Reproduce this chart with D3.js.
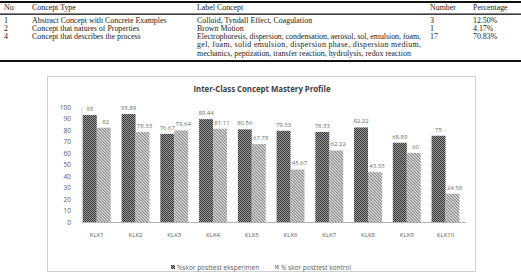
<!DOCTYPE html>
<html><head><meta charset="utf-8">
<script src="https://cdn.jsdelivr.net/npm/d3@7"></script>
<style>body{margin:0;background:#fff}svg{display:block}</style>
</head><body>
<svg id="c" width="521" height="274"></svg>
<script>
// ---- data ----
const tableHeaders = ["No", "Concept Type", "Label Concept", "Number", "Percentage"];
const tableNo = ["1", "2", "4"];
const tableType = ["Abstract Concept with Concrete Examples", "Concept that natures of Properties", "Concept that describes the process"];
const tableLabel = [
  ["Colloid, Tyndall Effect, Coagulation"],
  ["Brown Motion"],
  ["Electrophoresis, dispersion, condensation, aerosol, sol, emulsion, foam,",
   "gel, foam, solid emulsion, dispersion phase, dispersion medium,",
   "mechanics, peptization, transfer reaction, hydrolysis, redox reaction"]
];
const tableNumber = ["3", "1", "17"];
const tablePct = ["12.50%", "4.17%", "70.83%"];

const chartTitle = "Inter-Class Concept Mastery Profile";
const categories = ["KLK1","KLK2","KLK3","KLK4","KLK5","KLK6","KLK7","KLK8","KLK9","KLK10"];
const expValues = [93, 93.89, 76.67, 89.44, 80.56, 79.33, 78.33, 82.22, 68.89, 75];
const ctrlValues = [82, 78.33, 79.64, 81.11, 67.78, 45.67, 62.22, 43.33, 60, 24.58];
const expLabels = ["93","93.89","76.67","89.44","80.56","79.33","78.33","82.22","68.89","75"];
const ctrlLabels = ["82","78.33","79.64","81.11","67.78","45.67","62.22","43.33","60","24.58"];
const seriesNames = ["%skor posttest eksperimen", "% skor posttest kontrol"];
const yTicks = [0,10,20,30,40,50,60,70,80,90,100];

// ---- drawing ----
const svg = d3.select("#c");
const defs = svg.append("defs");
const p1 = defs.append("pattern").attr("id","pDark").attr("width",2).attr("height",2).attr("patternUnits","userSpaceOnUse");
p1.append("rect").attr("width",2).attr("height",2).attr("fill","#9c9c9c");
p1.append("rect").attr("width",1).attr("height",1).attr("fill","#353535");
p1.append("rect").attr("x",1).attr("y",1).attr("width",1).attr("height",1).attr("fill","#353535");
const p2 = defs.append("pattern").attr("id","pLight").attr("width",3).attr("height",3).attr("patternUnits","userSpaceOnUse");
p2.append("rect").attr("width",3).attr("height",3).attr("fill","#dedede");
[[0,0],[1,1],[2,2]].forEach(([x,y])=>p2.append("rect").attr("x",x).attr("y",y).attr("width",1).attr("height",1).attr("fill","#8a8a8a"));
[[1,0],[2,1],[0,2]].forEach(([x,y])=>p2.append("rect").attr("x",x).attr("y",y).attr("width",1).attr("height",1).attr("fill","#b4b4b4"));

// table
const tg = svg.append("g").attr("font-family","'Liberation Serif', serif").attr("font-size","7.9px").attr("fill","#1a1a1a");
tg.append("rect").attr("x",0).attr("y",1).attr("width",521).attr("height",2).attr("fill","#111");
tg.append("rect").attr("x",0).attr("y",13.5).attr("width",521).attr("height",1.3).attr("fill","#111");
tg.append("rect").attr("x",0).attr("y",60).attr("width",521).attr("height",2).attr("fill","#111");
const colX = [4, 32, 197, 430, 473];
tableHeaders.forEach((h,i)=>tg.append("text").attr("x",colX[i]).attr("y",10).text(h));
const rowY = [23, 31, 39];
tableNo.forEach((d,i)=>{
  tg.append("text").attr("x",colX[0]).attr("y",rowY[i]).text(d);
  tg.append("text").attr("x",colX[1]).attr("y",rowY[i]).text(tableType[i]);
  tableLabel[i].forEach((ln,j)=>{
    const t = tg.append("text").attr("x",colX[2]).attr("y",rowY[i]+j*8.3).text(ln);
    if (tableLabel[i].length>1 && j<tableLabel[i].length-1) t.attr("textLength",224).attr("lengthAdjust","spacing");
  });
  tg.append("text").attr("x",colX[3]).attr("y",rowY[i]).text(tableNumber[i]);
  tg.append("text").attr("x",colX[4]).attr("y",rowY[i]).text(tablePct[i]);
});

// chart frame
svg.append("rect").attr("x",47.5).attr("y",76.5).attr("width",428).attr("height",195).attr("fill","#fff").attr("stroke","#cfcfcf").attr("stroke-width",1);
svg.append("text").attr("x",262).attr("y",92).attr("text-anchor","middle")
  .attr("font-family","'Open Sans', sans-serif").attr("font-weight","bold").attr("font-size","8.2px").attr("fill","#404040")
  .attr("textLength",137).attr("lengthAdjust","spacingAndGlyphs").text(chartTitle);

const y = d3.scaleLinear().domain([0,100]).range([222,107]);
const x = d3.scaleBand().domain(categories).range([77.4,464.9]).paddingInner(0.28).paddingOuter(0.14);
const xs = d3.scaleBand().domain([0,1]).range([0,x.bandwidth()]);

// y axis
const ya = svg.append("g").attr("transform","translate(82,0)").call(d3.axisLeft(y).tickValues(yTicks).tickSize(0).tickPadding(11));
ya.select(".domain").remove();
ya.selectAll("text").attr("font-family","'Open Sans', sans-serif").attr("font-size","6.5px").attr("fill","#595959");
svg.append("line").attr("x1",82).attr("x2",82).attr("y1",y(100)).attr("y2",y(0)).attr("stroke","#d0d0d0");

// bars
const series = [expValues, ctrlValues];
const fills = ["url(#pDark)","url(#pLight)"];
const labs = [expLabels, ctrlLabels];
series.forEach((vals,s)=>{
  svg.append("g").selectAll("rect").data(categories).join("rect")
    .attr("x",(d)=>x(d)+xs(s)).attr("width",xs.bandwidth())
    .attr("y",(d,i)=>y(vals[i])).attr("height",(d,i)=>y(0)-y(vals[i]))
    .attr("fill",fills[s]);
  svg.append("g").selectAll("text").data(categories).join("text")
    .attr("x",(d)=>x(d)+xs(s)+xs.bandwidth()/2+(s?2:0)).attr("y",(d,i)=>y(vals[i])-4)
    .attr("text-anchor","middle").attr("font-family","'Open Sans', sans-serif").attr("font-size","6px").attr("fill","#6a6a6a")
    .text((d,i)=>labs[s][i]);
});

// x axis
svg.append("line").attr("x1",82).attr("x2",466).attr("y1",y(0)+0.5).attr("y2",y(0)+0.5).attr("stroke","#b0b0b0");
const xa = svg.append("g").attr("transform",`translate(0,${y(0)})`).call(d3.axisBottom(x).tickSize(0).tickPadding(11));
xa.select(".domain").remove();
xa.selectAll("text").attr("font-family","'Open Sans', sans-serif").attr("font-size","6px").attr("fill","#595959");

// legend
const lg = svg.append("g").attr("font-family","'Open Sans', sans-serif").attr("font-size","6.5px").attr("fill","#595959");
const legX = [171, 275];
seriesNames.forEach((n,i)=>{
  lg.append("rect").attr("x",legX[i]).attr("y",265).attr("width",4).attr("height",4).attr("fill",fills[i]);
  lg.append("text").attr("x",legX[i]+6).attr("y",269.5).text(n);
});
</script>
</body></html>
